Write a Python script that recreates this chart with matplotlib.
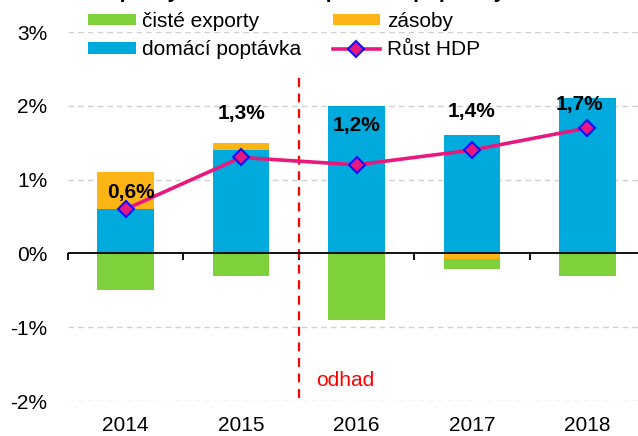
import matplotlib
matplotlib.use("Agg")
import matplotlib.pyplot as plt
import numpy as np
from matplotlib.patches import Patch
from matplotlib.lines import Line2D

plt.rcParams['font.family'] = ['Liberation Sans', 'DejaVu Sans']

# ---- data ----
years = ["2014", "2015", "2016", "2017", "2018"]
domaci_poptavka = [0.6, 1.4, 2.0, 1.6, 2.1]
zasoby = [0.5, 0.1, 0.0, -0.08, 0.0]
ciste_exporty = [-0.5, -0.3, -0.9, -0.13, -0.3]
rust_hdp = [0.6, 1.3, 1.2, 1.4, 1.7]
hdp_labels = ["0,6%", "1,3%", "1,2%", "1,4%", "1,7%"]
y_ticks = [-2, -1, 0, 1, 2, 3]
y_tick_labels = ["-2%", "-1%", "0%", "1%", "2%", "3%"]
series_names = ["čisté exporty", "zásoby", "domácí poptávka", "Růst HDP"]
title_text = "Příspěvky k růstu HDP z pohledu poptávky"
estimate_text = "odhad"

# ---- styles ----
c_green = "#7FD13B"
c_orange = "#FDB515"
c_blue = "#00AADC"
c_line = "#E8197E"
c_marker_edge = "#1010FF"
fs = 15

fig = plt.figure(figsize=(6.38, 4.36), dpi=100)
ax = fig.add_axes([68 / 638, 35 / 436, 577 / 638, 369 / 436])

x = np.arange(len(years))
w = 0.49
dom = np.array(domaci_poptavka)
zas = np.array(zasoby)
exp_ = np.array(ciste_exporty)

pos_base = np.zeros(len(x))
neg_base = np.zeros(len(x))

def stack(vals, color):
    global pos_base, neg_base
    bottoms = np.where(vals >= 0, pos_base, neg_base)
    ax.bar(x, vals, w, bottom=bottoms, color=color, zorder=2, linewidth=0)
    pos_base = pos_base + np.where(vals >= 0, vals, 0)
    neg_base = neg_base + np.where(vals < 0, vals, 0)

stack(dom, c_blue)
stack(zas, c_orange)
stack(exp_, c_green)

ax.plot(x, rust_hdp, color=c_line, lw=2.6, marker="D", markersize=8,
        markerfacecolor=c_line, markeredgecolor=c_marker_edge, markeredgewidth=1.5, zorder=4)

label_offsets = [(4, 12), (0, 32), (0, 28), (0, 28), (-6, 17)]
for xi, yi, lab, off in zip(x, rust_hdp, hdp_labels, label_offsets):
    ax.annotate(lab, (xi, yi), xytext=off, textcoords="offset points",
                ha="center", va="center", fontsize=fs, fontweight="bold", zorder=5)

# estimate divider
ax.plot([1.5, 1.5], [-1.96, 2.38], color="#FF0000", lw=1.6, dashes=(4, 3), zorder=3)
ax.text(1.65, -1.72, estimate_text, color="#FF0000", fontsize=fs, ha="left", va="center")

ax.set_xlim(-0.5, 4.5)
ax.set_ylim(-2, 3)
ax.set_yticks(y_ticks)
ax.set_yticklabels(y_tick_labels, fontsize=fs)
ax.set_xticks(x)
ax.set_xticklabels(years, fontsize=fs)
ax.tick_params(axis="y", length=0, pad=15)
ax.tick_params(axis="x", length=0, pad=11)
for s in ax.spines.values():
    s.set_visible(False)

# dashed horizontal gridlines (not at zero)
for yv in y_ticks:
    if yv != 0:
        ax.axhline(yv, color="#D0D0D0", lw=1.0, dashes=(4, 3), zorder=0)

# zero axis line drawn over the bars
ax.axhline(0, color="black", lw=1.3, zorder=3)

# category boundary ticks on the zero line
sec = ax.secondary_xaxis(0.4)
sec.set_xticks(np.arange(-0.5, 4.6, 1.0))
sec.set_xticklabels([])
sec.tick_params(axis="x", direction="out", length=5, width=1.3, color="black")
sec.spines["bottom"].set_visible(False)

handles = [
    Patch(facecolor=c_green, label=series_names[0]),
    Patch(facecolor=c_blue, label=series_names[2]),
    Patch(facecolor=c_orange, label=series_names[1]),
    Line2D([], [], color=c_line, lw=2.6, marker="D", markersize=8,
           markerfacecolor=c_line, markeredgecolor=c_marker_edge,
           markeredgewidth=1.5, label=series_names[3]),
]
fig.legend(handles=handles, ncol=2, loc="upper left",
           bbox_to_anchor=(88 / 638, 1 - 12 / 436), frameon=False,
           fontsize=fs, borderpad=0, borderaxespad=0, handlelength=2.3,
           handleheight=0.45, handletextpad=0.3, columnspacing=1.5,
           labelspacing=0.45)

fig.text(80 / 638, 1.0 + 2 / 436, title_text, fontsize=fs, fontweight="bold",
         ha="left", va="baseline")

fig.savefig("out.png", dpi=100)
